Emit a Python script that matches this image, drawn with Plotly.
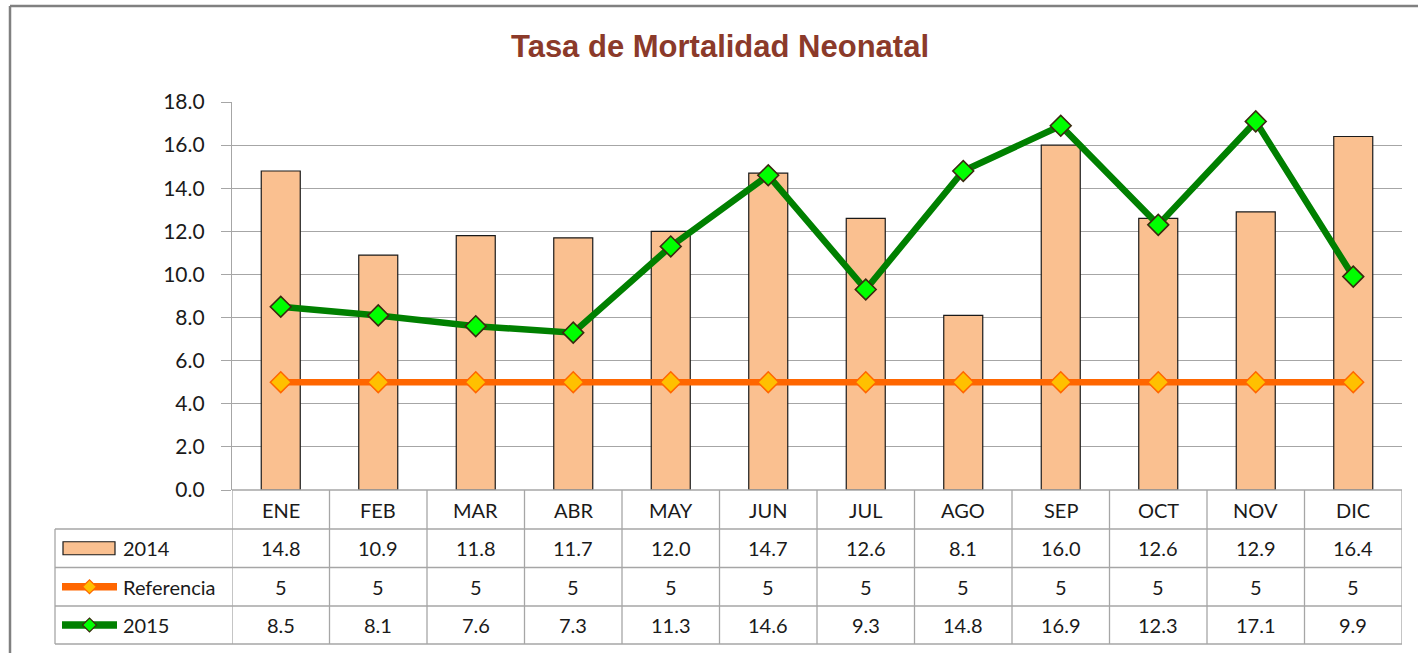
import plotly.graph_objects as go

months = ["ENE", "FEB", "MAR", "ABR", "MAY", "JUN", "JUL", "AGO", "SEP", "OCT", "NOV", "DIC"]
v2014 = [14.8, 10.9, 11.8, 11.7, 12.0, 14.7, 12.6, 8.1, 16.0, 12.6, 12.9, 16.4]
referencia = [5, 5, 5, 5, 5, 5, 5, 5, 5, 5, 5, 5]
v2015 = [8.5, 8.1, 7.6, 7.3, 11.3, 14.6, 9.3, 14.8, 16.9, 12.3, 17.1, 9.9]
yticks = [0, 2, 4, 6, 8, 10, 12, 14, 16, 18]

FW, FH = 1418, 653
L, R, T, B = 232, 1402, 102, 490
W, H = R - L, B - T
FONT = "Lato, Open Sans, sans-serif"
GRID = "#A6A6A6"
TXT = "#1a1a1a"

def px(x):
    return (x - L) / W

def py(y):
    return (B - y) / H

fig = go.Figure()
fig.add_trace(go.Bar(x=months, y=v2014, name="2014", width=0.4,
                     marker=dict(color="#FAC090", line=dict(color=TXT, width=1.2))))
fig.add_trace(go.Scatter(x=months, y=referencia, name="Referencia", mode="lines+markers",
                         line=dict(color="#FF6600", width=6.5),
                         marker=dict(symbol="diamond", size=16, color="#FFC000",
                                     line=dict(color="#FF6600", width=1.5))))
fig.add_trace(go.Scatter(x=months, y=v2015, name="2015", mode="lines+markers",
                         line=dict(color="#008000", width=6.5),
                         marker=dict(symbol="diamond", size=16, color="#00FF00",
                                     line=dict(color="#3B2A10", width=1.6))))

shapes = []
annotations = []
line_style = dict(color=GRID, width=1.3)

rows_y = [490, 529, 567.5, 606, 644]
leg_left = 55
shapes.append(dict(type="line", xref="paper", yref="paper", x0=px(L), x1=px(R),
                   y0=py(rows_y[0]), y1=py(rows_y[0]), line=line_style))
for yy in rows_y[1:]:
    shapes.append(dict(type="line", xref="paper", yref="paper", x0=px(leg_left), x1=px(R),
                       y0=py(yy), y1=py(yy), line=line_style))
for i in range(len(months) + 1):
    shapes.append(dict(type="line", xref="x", yref="paper", x0=i - 0.5, x1=i - 0.5,
                       y0=py(rows_y[0]), y1=py(rows_y[-1]), line=line_style))
shapes.append(dict(type="line", xref="paper", yref="paper", x0=px(leg_left), x1=px(leg_left),
                   y0=py(rows_y[1]), y1=py(rows_y[-1]), line=line_style))

def ann(**kw):
    d = dict(showarrow=False, xanchor="center", yanchor="middle",
             font=dict(family=FONT, size=20, color=TXT))
    d.update(kw)
    annotations.append(d)

series_rows = [("2014", v2014, "{:.1f}"), ("Referencia", referencia, "{:d}"), ("2015", v2015, "{:.1f}")]
for i, m in enumerate(months):
    ann(x=m, y=py((rows_y[0] + rows_y[1]) / 2), xref="x", yref="paper", text=m)
for r, (name, vals, fmt) in enumerate(series_rows):
    yc = py((rows_y[r + 1] + rows_y[r + 2]) / 2)
    for i, m in enumerate(months):
        ann(x=m, y=yc, xref="x", yref="paper", text=fmt.format(vals[i]))
    ann(x=px(121), y=yc, xref="paper", yref="paper", text=name, xanchor="left")

yc0 = (rows_y[1] + rows_y[2]) / 2
shapes.append(dict(type="rect", xref="paper", yref="paper", x0=px(63), x1=px(115),
                   y0=py(yc0 - 6.5), y1=py(yc0 + 6.5), fillcolor="#FAC090",
                   line=dict(color=TXT, width=1.2)))
for r, (lc, fc, bc) in enumerate([("#FF6600", "#FFC000", "#FF6600"), ("#008000", "#00FF00", "#3B2A10")]):
    yc = (rows_y[r + 2] + rows_y[r + 3]) / 2
    shapes.append(dict(type="line", xref="paper", yref="paper", x0=px(62), x1=px(117),
                       y0=py(yc), y1=py(yc), line=dict(color=lc, width=7.5)))
    cx, d = 89.5, 7
    path = "M {} {} L {} {} L {} {} L {} {} Z".format(
        px(cx - d), py(yc), px(cx), py(yc - d), px(cx + d), py(yc), px(cx), py(yc + d))
    shapes.append(dict(type="path", xref="paper", yref="paper", path=path, fillcolor=fc,
                       line=dict(color=bc, width=1.2)))

shapes.append(dict(type="line", xref="paper", yref="paper", x0=px(10), x1=px(1430),
                   y0=py(6), y1=py(6), line=dict(color="#808080", width=2.5)))
shapes.append(dict(type="line", xref="paper", yref="paper", x0=px(10), x1=px(10),
                   y0=py(6), y1=py(700), line=dict(color="#808080", width=2.5)))

ann(x=px(720), y=py(46), xref="paper", yref="paper",
    text="<b>Tasa de Mortalidad Neonatal</b>",
    font=dict(family="Liberation Sans Narrow, Arial Narrow, Liberation Sans, sans-serif",
              size=31, color="#8B3A2A"))

fig.update_layout(
    width=FW, height=FH,
    margin=dict(l=L, r=FW - R, t=T, b=FH - B, autoexpand=False),
    paper_bgcolor="white", plot_bgcolor="white",
    showlegend=False,
    shapes=shapes, annotations=annotations,
    xaxis=dict(range=[-0.5, 11.5], showticklabels=False, showgrid=False, ticks="",
               showline=False, zeroline=False),
    yaxis=dict(range=[0, 18], tickvals=yticks, tickformat=".1f", showgrid=True,
               gridcolor=GRID, gridwidth=1.3, ticks="outside", ticklen=10, tickcolor=GRID,
               showline=True, linecolor=GRID, linewidth=1.3, zeroline=False,
               tickfont=dict(family=FONT, size=21, color=TXT), ticklabelstandoff=12),
)

fig.write_html("out.html", config={"displayModeBar": False},
               post_script="document.body.style.margin='0';document.body.style.overflow='hidden';")
